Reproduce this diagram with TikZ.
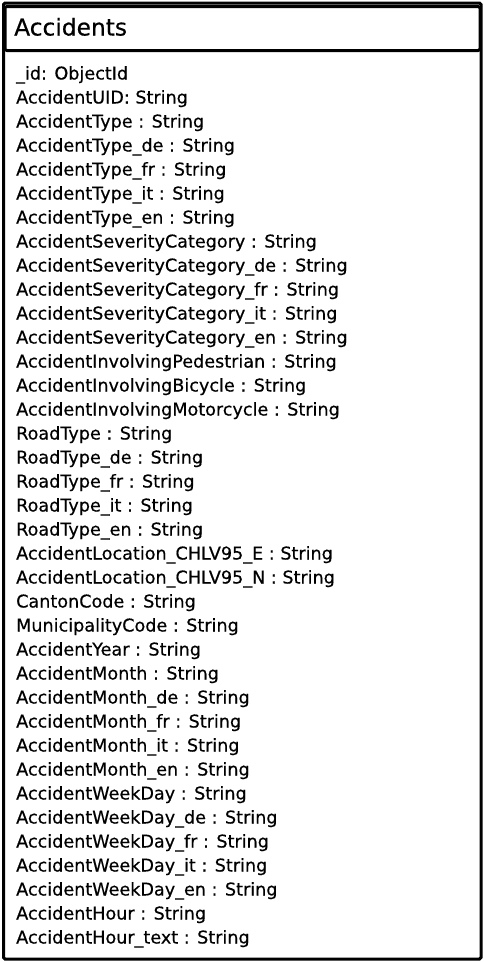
\documentclass[tikz,border=0pt]{standalone}
\usepackage{fontspec}
\setmainfont{DejaVu Sans}[BoldFont={DejaVu Sans},BoldFeatures={FakeBold=0.45}]
\begin{document}
\begin{tikzpicture}[x=1pt,y=-1pt,
  frame/.style={draw=black,line width=3pt},
  title/.style={anchor=base west,inner sep=0pt,font=\fontsize{23.3}{26}\selectfont\bfseries},
  field/.style={anchor=base west,inner sep=0pt,font=\fontsize{17.6}{20}\selectfont\bfseries}]
\useasboundingbox (0,0) rectangle (484,962);
\draw[frame,rounded corners=1.5pt] (3.5,3) rectangle (481,959);
\draw[frame,fill=white,rounded corners=2pt] (5,6.5) rectangle (480,50.5);
\node[title] (hdr) at (14,35.5) {Accidents};
\foreach \t [count=\i from 0] in {
\_id: ObjectId,
AccidentUID: String,
AccidentType : String,
AccidentType\_de : String,
AccidentType\_fr : String,
AccidentType\_it : String,
AccidentType\_en : String,
AccidentSeverityCategory : String,
AccidentSeverityCategory\_de : String,
AccidentSeverityCategory\_fr : String,
AccidentSeverityCategory\_it : String,
AccidentSeverityCategory\_en : String,
AccidentInvolvingPedestrian : String,
AccidentInvolvingBicycle : String,
AccidentInvolvingMotorcycle : String,
RoadType : String,
RoadType\_de : String,
RoadType\_fr : String,
RoadType\_it : String,
RoadType\_en : String,
AccidentLocation\_CHLV95\_E : String,
AccidentLocation\_CHLV95\_N : String,
CantonCode : String,
MunicipalityCode : String,
AccidentYear : String,
AccidentMonth : String,
AccidentMonth\_de : String,
AccidentMonth\_fr : String,
AccidentMonth\_it : String,
AccidentMonth\_en : String,
AccidentWeekDay : String,
AccidentWeekDay\_de : String,
AccidentWeekDay\_fr : String,
AccidentWeekDay\_it : String,
AccidentWeekDay\_en : String,
AccidentHour : String,
AccidentHour\_text : String}
{\node[field] (f\i) at (16,{79.5+24*\i}) {\t};}
\end{tikzpicture}
\end{document}
